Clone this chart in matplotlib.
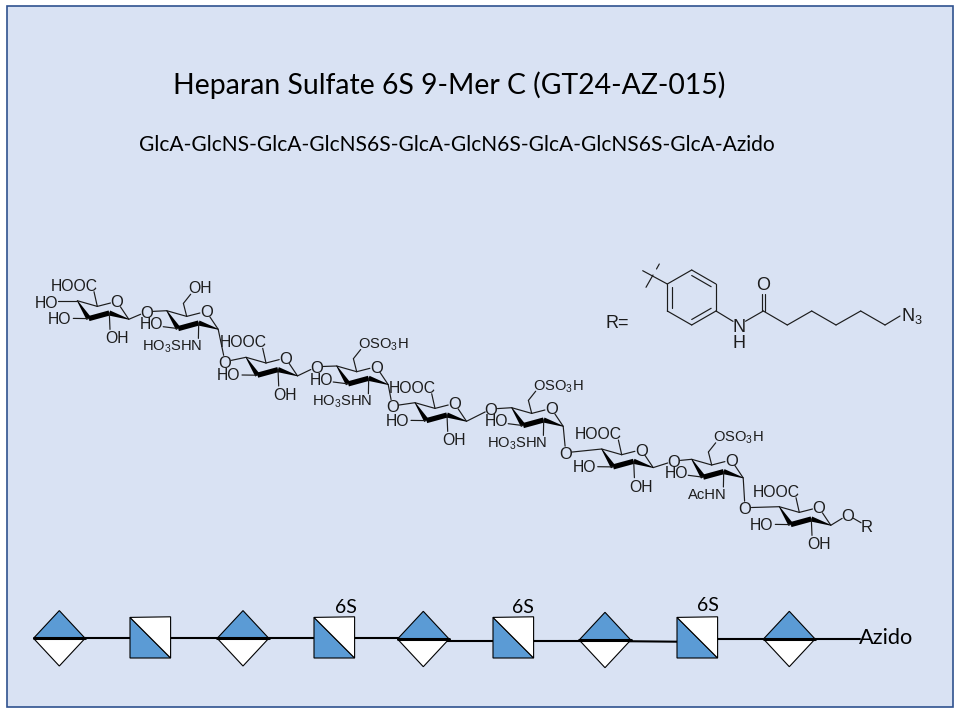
from matplotlib import pyplot as plt
from matplotlib.patches import Polygon, Rectangle

plt.rcParams['font.family'] = ['Liberation Sans', 'DejaVu Sans']
plt.rcParams['mathtext.fontset'] = 'custom'
plt.rcParams['mathtext.rm'] = 'Liberation Sans'
plt.rcParams['mathtext.default'] = 'regular'

TITLE = 'Heparan Sulfate 6S 9-Mer C (GT24-AZ-015)'
SUBTITLE = 'GlcA-GlcNS-GlcA-GlcNS6S-GlcA-GlcN6S-GlcA-GlcNS6S-GlcA-Azido'

# structure drawing: kind of ring, what sits on C6 and on N
RINGS = ['GlcA', 'GlcN', 'GlcA', 'GlcN', 'GlcA', 'GlcN', 'GlcA', 'GlcN', 'GlcA']
C6_LABELS = [None, 'OH', None, 'OSO$_3$H', None, 'OSO$_3$H', None, 'OSO$_3$H', None]
N_LABELS = [None, 'HO$_3$SHN', None, 'HO$_3$SHN', None, 'HO$_3$SHN', None, 'AcHN', None]
RING_X = [77.3, 166.7, 246, 336.7, 415, 511.7, 601.7, 691.7, 779.3]
RING_Y = [300.7, 310.7, 357.3, 366, 402.7, 407.7, 449, 459.3, 506.7]
LINK_O_X = [146.7, 225, 316.7, 392.3, 491, 565.7, 674, 745]
LINK_O_Y = [311.7, 361.7, 366.7, 406, 409, 452.7, 461, 507.7]

# bottom cartoon
SYMBOLS = ['diamond', 'square'] * 4 + ['diamond']
SYMBOL_X = [59.3, 150.3, 243, 334.3, 423.3, 513.3, 605, 697.3, 789.3]
SYMBOL_Y = [638.3, 637.7, 638.3, 637.7, 639, 637.7, 640, 637.7, 639]
MOD_LABELS = ['6S', '6S', '6S']
MOD_X = [345.7, 523.3, 708.3]
MOD_Y = [607.3, 607.3, 605.7]

# R group
BENZENE_X = [667.3, 691.7, 716, 716, 691.7, 667.3]
BENZENE_Y = [284, 270, 284, 311, 325, 311]
CHAIN_X = [763.3, 787.3, 811.7, 836, 860.7, 885]
CHAIN_Y = [311, 325, 311, 325, 311, 325]

BG = '#D9E2F3'
EDGE = '#2F528F'
BLUE = '#5B9BD5'
INK = '#1c1c1c'
LW = 0.85
LABEL_SIZE = 11.3
SUB_SIZE = 10.6

fig = plt.figure(figsize=(9.6, 7.2), dpi=100)
ax = fig.add_axes([0, 0, 1, 1])
ax.set_xlim(0, 960)
ax.set_ylim(720, 0)
ax.axis('off')


def bond(x1, y1, x2, y2, lw=LW, color=INK):
    ax.plot([x1, x2], [y1, y2], color=color, lw=lw, solid_capstyle='round', zorder=3)


def trimmed(x1, y1, x2, y2, cut1=0, cut2=0):
    # stop a bond short of an atom label
    dx, dy = x2 - x1, y2 - y1
    d = (dx ** 2 + dy ** 2) ** 0.5
    bond(x1 + dx / d * cut1, y1 + dy / d * cut1, x2 - dx / d * cut2, y2 - dy / d * cut2)


def wedge(x1, y1, x2, y2, w1, w2):
    dx, dy = x2 - x1, y2 - y1
    d = (dx ** 2 + dy ** 2) ** 0.5
    nx, ny = -dy / d / 2, dx / d / 2
    pts = [(x1 + nx * w1, y1 + ny * w1), (x2 + nx * w2, y2 + ny * w2),
           (x2 - nx * w2, y2 - ny * w2), (x1 - nx * w1, y1 - ny * w1)]
    ax.add_patch(Polygon(pts, closed=True, fc='black', ec='none', zorder=3))


def label(x, y, s, ha='center', size=LABEL_SIZE):
    ax.text(x, y, s, ha=ha, va='center_baseline', fontsize=size, color=INK, zorder=4)


def draw_ring(x, y, kind, c6, nlabel, first):
    c5 = (x + 20, y + 5.7)
    o5 = (x + 39.5, y + 0.7)
    c1 = (x + 51.5, y + 18.6)
    c2 = (x + 32, y + 12.3)
    c3 = (x + 11.5, y + 17.9)
    bond(x, y, c5[0], c5[1])
    trimmed(c5[0], c5[1], o5[0], o5[1], 0, 6.5)
    trimmed(o5[0], o5[1], c1[0], c1[1], 6.5, 0)
    wedge(x, y, c3[0], c3[1], 0.8, 5.2)
    wedge(c3[0], c3[1], c2[0], c2[1], 5.2, 5.2)
    wedge(c2[0], c2[1], c1[0], c1[1], 5.2, 0.8)
    label(o5[0], o5[1], 'O', size=12)

    if kind == 'GlcA':
        bond(c5[0], c5[1], x + 16.7, y - 9)
        label(x - 3, y - 16, 'HOOC')
        bond(c3[0], c3[1], x - 4, y + 17.7)
        label(x - 17.5, y + 17, 'HO')
        bond(c2[0], c2[1], x + 32.7, y + 28.7)
        label(x + 39.3, y + 36.7, 'OH')
        if first:
            bond(x, y, x - 19, y)
            label(x - 30.7, y + 1, 'HO')
    else:
        bond(c5[0], c5[1], x + 16.7, y - 7.3)
        bond(x + 16.7, y - 7.3, x + 24, y - 16.5)
        if c6 == 'OH':
            label(x + 33.7, y - 23.3, c6)
        else:
            label(x + 21.5, y - 23.3, c6, ha='left', size=SUB_SIZE)
        bond(c3[0], c3[1], x - 3.5, y + 16)
        label(x - 15, y + 12.7, 'HO')
        bond(c2[0], c2[1], x + 31.7, y + 27.7)
        label(x + 35.3, y + 34, nlabel, ha='right', size=SUB_SIZE)
    return c1


def draw_symbol(x, y, kind):
    if kind == 'diamond':
        w, h = 25.8, 27.7
        ax.add_patch(Polygon([(x - w, y), (x, y - h), (x + w, y)], fc=BLUE, ec='black', lw=0.8, zorder=3))
        ax.add_patch(Polygon([(x - w, y), (x, y + h), (x + w, y)], fc='white', ec='black', lw=0.8, zorder=3))
        bond(x - w, y, x + w, y, lw=2.2, color='black')
    else:
        s = 20.3
        ax.add_patch(Polygon([(x - s, y - s), (x + s, y + s), (x - s, y + s)], fc=BLUE, ec='black', lw=0.8, zorder=3))
        ax.add_patch(Polygon([(x - s, y - s), (x + s, y - s - 0.6), (x + s, y + s)], fc='white', ec='black', lw=0.8, zorder=3))


# background panel
ax.add_patch(Rectangle((7, 6), 946, 701, fc=BG, ec=EDGE, lw=1.2, zorder=1))

ax.text(449.5, 85, TITLE, ha='center', va='center', family='Lato', fontsize=20.45, color='black')
ax.text(457, 145, SUBTITLE, ha='center', va='center', family='Lato', fontsize=15.1, color='black')

# sugar chain
prev_c1 = None
for i, kind in enumerate(RINGS):
    x, y = RING_X[i], RING_Y[i]
    c1 = draw_ring(x, y, kind, C6_LABELS[i], N_LABELS[i], i == 0)
    if prev_c1 is not None:
        ox, oy = LINK_O_X[i - 1], LINK_O_Y[i - 1]
        trimmed(prev_c1[0], prev_c1[1], ox, oy, 0, 6.5)
        trimmed(ox, oy, x, y, 6.5, 0)
        label(ox, oy, 'O', size=12)
    prev_c1 = c1

# end of the chain, O-R
trimmed(prev_c1[0], prev_c1[1], 847.7, 515, 0, 6.5)
label(847.7, 515, 'O', size=12)
trimmed(847.7, 515, 866.7, 526, 6.5, 6.5)
label(867, 526, 'R', size=12)

# R group
label(617, 321.5, 'R=', size=13)
for i in range(6):
    j = (i + 1) % 6
    bond(BENZENE_X[i], BENZENE_Y[i], BENZENE_X[j], BENZENE_Y[j])
for i in [1, 3, 5]:
    j = (i + 1) % 6
    cx, cy = 691.7, 297.5
    bond(BENZENE_X[i] + (cx - BENZENE_X[i]) * 0.2, BENZENE_Y[i] + (cy - BENZENE_Y[i]) * 0.2,
         BENZENE_X[j] + (cx - BENZENE_X[j]) * 0.2, BENZENE_Y[j] + (cy - BENZENE_Y[j]) * 0.2)
bond(BENZENE_X[0], BENZENE_Y[0], 642.7, 270.7)
bond(659.3, 264, 656.5, 269)
bond(653, 275, 646, 287.3)
trimmed(BENZENE_X[3], BENZENE_Y[3], 739, 325, 0, 7)
trimmed(739, 325, CHAIN_X[0], CHAIN_Y[0], 7.5, 0)
label(739, 325, 'N', size=13)
label(739, 341.7, 'H', size=13)
bond(762, 311, 762, 293.5)
bond(765, 311, 765, 293.5)
label(763, 284, 'O', size=13)
for i in range(5):
    bond(CHAIN_X[i], CHAIN_Y[i], CHAIN_X[i + 1], CHAIN_Y[i + 1])
trimmed(885, 325, 900, 316, 0, 0)
label(901, 313, 'N$_3$', ha='left', size=13)

# cartoon backbone
bond(59, 638.3, 424, 638.3, lw=1.5, color='black')
bond(424, 641, 605, 641, lw=1.5, color='black')
bond(605, 641, 678, 641.7, lw=1.5, color='black')
bond(697, 639, 860, 639, lw=1.5, color='black')
for sx, sy, kind in zip(SYMBOL_X, SYMBOL_Y, SYMBOLS):
    draw_symbol(sx, sy, kind)
for mx, my, s in zip(MOD_X, MOD_Y, MOD_LABELS):
    ax.text(mx, my, s, ha='center', va='center', family='Lato', fontsize=14, color='black', zorder=5)
ax.text(859, 638, 'Azido', ha='left', va='center', family='Lato', fontsize=15.7, color='black', zorder=5)

fig.savefig('out.png', dpi=100, facecolor='white')
